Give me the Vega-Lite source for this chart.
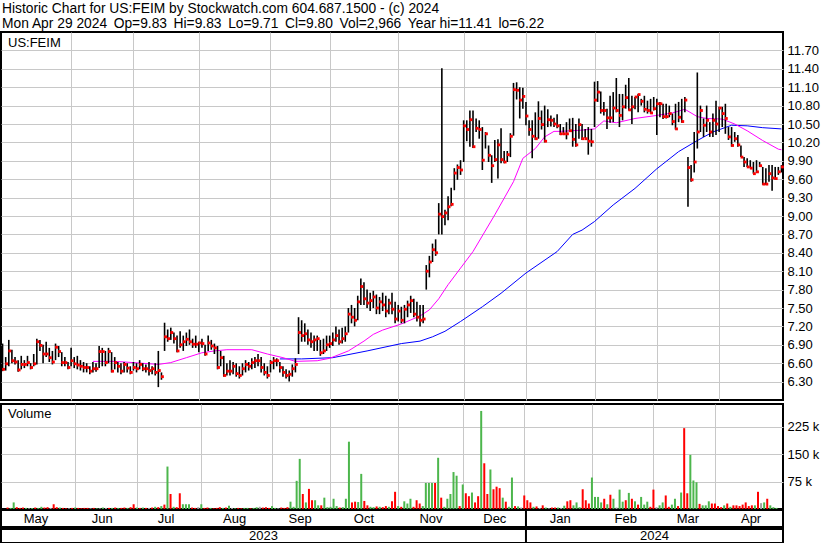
{
"$schema": "https://vega.github.io/schema/vega-lite/v6.json",
"padding": {"top": 2, "left": 0, "right": 0, "bottom": 0},
"background": "white",
"title": {"text": ["Historic Chart for US:FEIM by Stockwatch.com 604.687.1500 - (c) 2024", "Mon Apr 29 2024\u00a0\u2009Op=9.83\u00a0\u2009Hi=9.83\u00a0\u2009Lo=9.71\u00a0\u2009Cl=9.80\u00a0\u2009Vol=2,966\u00a0\u2009Year hi=11.41\u00a0\u2009lo=6.22"], "anchor": "start", "frame": "group", "fontSize": 13.8, "fontWeight": "normal", "font": "Liberation Sans", "color": "black", "lineHeight": 15, "offset": 0, "dx": 1},
"datasets": {
"bars": [
{"i":0,"h":6.92,"l":6.47,"c":6.50,"v":4,"d":"d"},
{"i":1,"h":6.70,"l":6.48,"c":6.59,"v":3,"d":"u"},
{"i":2,"h":6.98,"l":6.55,"c":6.80,"v":18,"d":"u"},
{"i":3,"h":6.82,"l":6.60,"c":6.64,"v":5,"d":"d"},
{"i":4,"h":6.70,"l":6.58,"c":6.62,"v":3,"d":"d"},
{"i":5,"h":6.65,"l":6.46,"c":6.49,"v":4,"d":"d"},
{"i":6,"h":6.72,"l":6.50,"c":6.58,"v":3,"d":"u"},
{"i":7,"h":6.65,"l":6.52,"c":6.58,"v":2,"d":"n"},
{"i":8,"h":6.72,"l":6.55,"c":6.61,"v":3,"d":"u"},
{"i":9,"h":6.60,"l":6.50,"c":6.53,"v":4,"d":"d"},
{"i":10,"h":6.75,"l":6.55,"c":6.59,"v":3,"d":"u"},
{"i":11,"h":7.00,"l":6.58,"c":6.95,"v":6,"d":"u"},
{"i":12,"h":6.98,"l":6.80,"c":6.89,"v":4,"d":"d"},
{"i":13,"h":6.90,"l":6.60,"c":6.75,"v":5,"d":"d"},
{"i":14,"h":6.95,"l":6.70,"c":6.75,"v":3,"d":"n"},
{"i":15,"h":6.85,"l":6.62,"c":6.69,"v":13,"d":"d"},
{"i":16,"h":6.80,"l":6.58,"c":6.62,"v":5,"d":"d"},
{"i":17,"h":6.92,"l":6.65,"c":6.86,"v":4,"d":"u"},
{"i":18,"h":6.88,"l":6.70,"c":6.79,"v":3,"d":"d"},
{"i":19,"h":6.78,"l":6.55,"c":6.61,"v":2,"d":"d"},
{"i":20,"h":6.70,"l":6.55,"c":6.61,"v":2,"d":"n"},
{"i":21,"h":6.62,"l":6.50,"c":6.53,"v":3,"d":"d"},
{"i":22,"h":6.85,"l":6.55,"c":6.64,"v":4,"d":"u"},
{"i":23,"h":6.70,"l":6.52,"c":6.59,"v":3,"d":"d"},
{"i":24,"h":6.72,"l":6.50,"c":6.57,"v":2,"d":"d"},
{"i":25,"h":6.65,"l":6.48,"c":6.55,"v":3,"d":"d"},
{"i":26,"h":6.62,"l":6.45,"c":6.53,"v":3,"d":"d"},
{"i":27,"h":6.60,"l":6.45,"c":6.53,"v":2,"d":"n"},
{"i":28,"h":6.55,"l":6.42,"c":6.47,"v":3,"d":"d"},
{"i":29,"h":6.62,"l":6.45,"c":6.51,"v":2,"d":"u"},
{"i":30,"h":6.60,"l":6.46,"c":6.51,"v":2,"d":"n"},
{"i":31,"h":6.88,"l":6.52,"c":6.79,"v":4,"d":"u"},
{"i":32,"h":6.85,"l":6.55,"c":6.79,"v":3,"d":"n"},
{"i":33,"h":6.80,"l":6.55,"c":6.61,"v":3,"d":"d"},
{"i":34,"h":6.85,"l":6.60,"c":6.79,"v":3,"d":"u"},
{"i":35,"h":6.78,"l":6.45,"c":6.47,"v":4,"d":"d"},
{"i":36,"h":6.70,"l":6.50,"c":6.61,"v":3,"d":"u"},
{"i":37,"h":6.62,"l":6.45,"c":6.55,"v":3,"d":"d"},
{"i":38,"h":6.60,"l":6.42,"c":6.47,"v":4,"d":"d"},
{"i":39,"h":6.62,"l":6.45,"c":6.58,"v":3,"d":"u"},
{"i":40,"h":6.60,"l":6.45,"c":6.52,"v":5,"d":"d"},
{"i":41,"h":6.55,"l":6.42,"c":6.45,"v":13,"d":"d"},
{"i":42,"h":6.62,"l":6.48,"c":6.53,"v":4,"d":"u"},
{"i":43,"h":6.60,"l":6.45,"c":6.51,"v":3,"d":"d"},
{"i":44,"h":6.65,"l":6.50,"c":6.58,"v":4,"d":"u"},
{"i":45,"h":6.60,"l":6.47,"c":6.51,"v":3,"d":"d"},
{"i":46,"h":6.58,"l":6.45,"c":6.51,"v":3,"d":"n"},
{"i":47,"h":6.62,"l":6.40,"c":6.48,"v":4,"d":"d"},
{"i":48,"h":6.55,"l":6.42,"c":6.51,"v":6,"d":"u"},
{"i":49,"h":6.60,"l":6.40,"c":6.45,"v":5,"d":"d"},
{"i":50,"h":6.80,"l":6.21,"c":6.48,"v":8,"d":"u"},
{"i":51,"h":6.45,"l":6.33,"c":6.38,"v":12,"d":"d"},
{"i":52,"h":7.26,"l":6.80,"c":7.03,"v":116,"d":"u"},
{"i":53,"h":7.15,"l":6.95,"c":7.00,"v":41,"d":"d"},
{"i":54,"h":7.18,"l":6.98,"c":7.10,"v":6,"d":"u"},
{"i":55,"h":7.10,"l":6.92,"c":7.00,"v":5,"d":"d"},
{"i":56,"h":7.05,"l":6.78,"c":6.80,"v":43,"d":"d"},
{"i":57,"h":7.12,"l":6.85,"c":6.90,"v":13,"d":"u"},
{"i":58,"h":7.05,"l":6.80,"c":6.95,"v":13,"d":"u"},
{"i":59,"h":7.10,"l":6.88,"c":6.99,"v":13,"d":"u"},
{"i":60,"h":7.15,"l":6.90,"c":6.95,"v":4,"d":"d"},
{"i":61,"h":7.00,"l":6.85,"c":6.91,"v":3,"d":"d"},
{"i":62,"h":7.05,"l":6.85,"c":6.91,"v":5,"d":"n"},
{"i":63,"h":6.95,"l":6.78,"c":6.93,"v":13,"d":"u"},
{"i":64,"h":7.00,"l":6.85,"c":6.92,"v":3,"d":"d"},
{"i":65,"h":6.90,"l":6.72,"c":6.75,"v":4,"d":"d"},
{"i":66,"h":7.05,"l":6.80,"c":6.93,"v":3,"d":"u"},
{"i":67,"h":6.98,"l":6.82,"c":6.88,"v":2,"d":"d"},
{"i":68,"h":6.92,"l":6.75,"c":6.85,"v":3,"d":"d"},
{"i":69,"h":6.88,"l":6.50,"c":6.53,"v":5,"d":"d"},
{"i":70,"h":6.80,"l":6.55,"c":6.69,"v":3,"d":"u"},
{"i":71,"h":6.72,"l":6.38,"c":6.40,"v":4,"d":"d"},
{"i":72,"h":6.60,"l":6.40,"c":6.47,"v":9,"d":"u"},
{"i":73,"h":6.65,"l":6.40,"c":6.47,"v":3,"d":"n"},
{"i":74,"h":6.62,"l":6.42,"c":6.55,"v":2,"d":"u"},
{"i":75,"h":6.60,"l":6.38,"c":6.43,"v":3,"d":"d"},
{"i":76,"h":6.55,"l":6.35,"c":6.40,"v":2,"d":"d"},
{"i":77,"h":6.60,"l":6.40,"c":6.51,"v":3,"d":"u"},
{"i":78,"h":6.65,"l":6.45,"c":6.58,"v":3,"d":"u"},
{"i":79,"h":6.62,"l":6.48,"c":6.55,"v":2,"d":"d"},
{"i":80,"h":6.68,"l":6.50,"c":6.61,"v":3,"d":"u"},
{"i":81,"h":6.70,"l":6.52,"c":6.64,"v":5,"d":"u"},
{"i":82,"h":6.75,"l":6.55,"c":6.64,"v":6,"d":"n"},
{"i":83,"h":6.70,"l":6.45,"c":6.53,"v":4,"d":"d"},
{"i":84,"h":6.60,"l":6.40,"c":6.45,"v":5,"d":"d"},
{"i":85,"h":6.55,"l":6.35,"c":6.40,"v":3,"d":"d"},
{"i":86,"h":6.65,"l":6.45,"c":6.61,"v":8,"d":"u"},
{"i":87,"h":6.70,"l":6.50,"c":6.64,"v":3,"d":"u"},
{"i":88,"h":6.68,"l":6.55,"c":6.64,"v":2,"d":"n"},
{"i":89,"h":6.62,"l":6.45,"c":6.53,"v":4,"d":"d"},
{"i":90,"h":6.55,"l":6.38,"c":6.45,"v":3,"d":"d"},
{"i":91,"h":6.50,"l":6.35,"c":6.40,"v":5,"d":"d"},
{"i":92,"h":6.48,"l":6.30,"c":6.42,"v":20,"d":"u"},
{"i":93,"h":6.58,"l":6.38,"c":6.51,"v":6,"d":"u"},
{"i":94,"h":6.68,"l":6.45,"c":6.58,"v":77,"d":"u"},
{"i":95,"h":7.35,"l":6.75,"c":7.10,"v":137,"d":"u"},
{"i":96,"h":7.30,"l":6.95,"c":7.05,"v":41,"d":"d"},
{"i":97,"h":7.25,"l":6.95,"c":7.08,"v":18,"d":"u"},
{"i":98,"h":7.15,"l":6.90,"c":6.98,"v":55,"d":"d"},
{"i":99,"h":7.10,"l":6.85,"c":6.95,"v":24,"d":"d"},
{"i":100,"h":7.05,"l":6.80,"c":6.98,"v":24,"d":"u"},
{"i":101,"h":7.05,"l":6.80,"c":7.00,"v":10,"d":"u"},
{"i":102,"h":6.98,"l":6.72,"c":6.77,"v":10,"d":"d"},
{"i":103,"h":7.00,"l":6.75,"c":6.80,"v":31,"d":"u"},
{"i":104,"h":7.05,"l":6.80,"c":6.90,"v":5,"d":"u"},
{"i":105,"h":7.05,"l":6.85,"c":6.92,"v":6,"d":"u"},
{"i":106,"h":7.10,"l":6.88,"c":6.98,"v":28,"d":"u"},
{"i":107,"h":7.20,"l":6.95,"c":7.05,"v":8,"d":"u"},
{"i":108,"h":7.15,"l":6.90,"c":6.95,"v":4,"d":"d"},
{"i":109,"h":7.18,"l":6.92,"c":7.00,"v":5,"d":"u"},
{"i":110,"h":7.20,"l":6.95,"c":7.08,"v":28,"d":"u"},
{"i":111,"h":7.50,"l":7.10,"c":7.40,"v":184,"d":"u"},
{"i":112,"h":7.55,"l":7.25,"c":7.35,"v":18,"d":"d"},
{"i":113,"h":7.50,"l":7.20,"c":7.30,"v":20,"d":"d"},
{"i":114,"h":7.70,"l":7.30,"c":7.60,"v":19,"d":"u"},
{"i":115,"h":7.98,"l":7.55,"c":7.85,"v":96,"d":"u"},
{"i":116,"h":7.92,"l":7.55,"c":7.65,"v":22,"d":"d"},
{"i":117,"h":7.80,"l":7.50,"c":7.58,"v":10,"d":"d"},
{"i":118,"h":7.75,"l":7.45,"c":7.62,"v":6,"d":"u"},
{"i":119,"h":7.78,"l":7.50,"c":7.68,"v":5,"d":"u"},
{"i":120,"h":7.72,"l":7.40,"c":7.50,"v":7,"d":"d"},
{"i":121,"h":7.68,"l":7.40,"c":7.60,"v":6,"d":"u"},
{"i":122,"h":7.75,"l":7.45,"c":7.55,"v":5,"d":"d"},
{"i":123,"h":7.70,"l":7.35,"c":7.45,"v":8,"d":"d"},
{"i":124,"h":7.65,"l":7.40,"c":7.58,"v":6,"d":"u"},
{"i":125,"h":7.75,"l":7.40,"c":7.48,"v":21,"d":"d"},
{"i":126,"h":7.60,"l":7.25,"c":7.32,"v":47,"d":"d"},
{"i":127,"h":7.55,"l":7.28,"c":7.45,"v":8,"d":"u"},
{"i":128,"h":7.52,"l":7.25,"c":7.30,"v":6,"d":"d"},
{"i":129,"h":7.55,"l":7.25,"c":7.48,"v":21,"d":"u"},
{"i":130,"h":7.62,"l":7.35,"c":7.55,"v":15,"d":"u"},
{"i":131,"h":7.70,"l":7.42,"c":7.62,"v":28,"d":"u"},
{"i":132,"h":7.65,"l":7.35,"c":7.40,"v":6,"d":"d"},
{"i":133,"h":7.60,"l":7.28,"c":7.35,"v":24,"d":"d"},
{"i":134,"h":7.55,"l":7.20,"c":7.30,"v":15,"d":"d"},
{"i":135,"h":7.55,"l":7.25,"c":7.32,"v":8,"d":"u"},
{"i":136,"h":8.20,"l":7.80,"c":8.10,"v":71,"d":"u"},
{"i":137,"h":8.35,"l":8.00,"c":8.25,"v":71,"d":"u"},
{"i":138,"h":8.55,"l":8.25,"c":8.45,"v":71,"d":"u"},
{"i":139,"h":8.62,"l":8.35,"c":8.40,"v":71,"d":"d"},
{"i":140,"h":9.21,"l":8.70,"c":9.03,"v":140,"d":"u"},
{"i":141,"h":11.41,"l":8.70,"c":8.99,"v":31,"d":"d"},
{"i":142,"h":9.10,"l":8.85,"c":9.05,"v":6,"d":"u"},
{"i":143,"h":9.32,"l":8.93,"c":9.15,"v":28,"d":"u"},
{"i":144,"h":9.46,"l":9.16,"c":9.19,"v":41,"d":"u"},
{"i":145,"h":9.78,"l":9.42,"c":9.70,"v":101,"d":"u"},
{"i":146,"h":9.84,"l":9.59,"c":9.79,"v":91,"d":"u"},
{"i":147,"h":9.91,"l":9.67,"c":9.75,"v":8,"d":"d"},
{"i":148,"h":10.56,"l":9.88,"c":10.47,"v":67,"d":"u"},
{"i":149,"h":10.56,"l":10.22,"c":10.41,"v":43,"d":"d"},
{"i":150,"h":10.72,"l":10.13,"c":10.57,"v":35,"d":"d"},
{"i":151,"h":10.72,"l":10.11,"c":10.13,"v":45,"d":"u"},
{"i":152,"h":10.59,"l":10.37,"c":10.43,"v":18,"d":"d"},
{"i":153,"h":10.56,"l":10.26,"c":10.41,"v":35,"d":"d"},
{"i":154,"h":10.45,"l":9.75,"c":9.91,"v":268,"d":"u"},
{"i":155,"h":10.37,"l":10.10,"c":10.34,"v":125,"d":"d"},
{"i":156,"h":10.15,"l":9.88,"c":9.99,"v":41,"d":"d"},
{"i":157,"h":9.99,"l":9.54,"c":9.82,"v":108,"d":"u"},
{"i":158,"h":10.24,"l":9.88,"c":9.92,"v":54,"d":"d"},
{"i":159,"h":10.25,"l":9.61,"c":10.16,"v":61,"d":"d"},
{"i":160,"h":10.43,"l":9.86,"c":9.92,"v":57,"d":"d"},
{"i":161,"h":10.06,"l":9.86,"c":9.88,"v":31,"d":"u"},
{"i":162,"h":10.06,"l":9.88,"c":10.00,"v":20,"d":"d"},
{"i":163,"h":10.35,"l":9.96,"c":10.30,"v":6,"d":"u"},
{"i":164,"h":11.17,"l":10.31,"c":11.06,"v":86,"d":"u"},
{"i":165,"h":11.18,"l":10.90,"c":11.05,"v":8,"d":"d"},
{"i":166,"h":11.10,"l":10.59,"c":10.89,"v":7,"d":"u"},
{"i":167,"h":11.09,"l":10.75,"c":10.95,"v":4,"d":"n"},
{"i":168,"h":10.86,"l":10.48,"c":10.63,"v":37,"d":"d"},
{"i":169,"h":10.56,"l":10.31,"c":10.41,"v":24,"d":"d"},
{"i":170,"h":10.56,"l":9.94,"c":10.30,"v":18,"d":"d"},
{"i":171,"h":10.69,"l":10.24,"c":10.26,"v":6,"d":"u"},
{"i":172,"h":10.87,"l":10.26,"c":10.59,"v":7,"d":"d"},
{"i":173,"h":10.72,"l":10.41,"c":10.49,"v":3,"d":"n"},
{"i":174,"h":10.80,"l":10.20,"c":10.22,"v":10,"d":"d"},
{"i":175,"h":10.74,"l":10.45,"c":10.57,"v":4,"d":"u"},
{"i":176,"h":10.64,"l":10.46,"c":10.56,"v":2,"d":"n"},
{"i":177,"h":10.60,"l":10.45,"c":10.50,"v":4,"d":"d"},
{"i":178,"h":10.66,"l":10.43,"c":10.47,"v":4,"d":"d"},
{"i":179,"h":10.50,"l":10.32,"c":10.34,"v":4,"d":"u"},
{"i":180,"h":10.45,"l":10.32,"c":10.34,"v":3,"d":"n"},
{"i":181,"h":10.53,"l":10.25,"c":10.34,"v":9,"d":"u"},
{"i":182,"h":10.59,"l":10.37,"c":10.39,"v":21,"d":"d"},
{"i":183,"h":10.60,"l":10.13,"c":10.25,"v":24,"d":"d"},
{"i":184,"h":10.50,"l":10.13,"c":10.16,"v":10,"d":"u"},
{"i":185,"h":10.59,"l":10.26,"c":10.49,"v":18,"d":"u"},
{"i":186,"h":10.50,"l":10.24,"c":10.26,"v":5,"d":"u"},
{"i":187,"h":10.42,"l":10.27,"c":10.26,"v":54,"d":"d"},
{"i":188,"h":10.45,"l":10.00,"c":10.22,"v":24,"d":"d"},
{"i":189,"h":10.42,"l":10.13,"c":10.21,"v":15,"d":"d"},
{"i":190,"h":11.19,"l":10.45,"c":10.89,"v":86,"d":"u"},
{"i":191,"h":11.20,"l":10.86,"c":11.02,"v":33,"d":"u"},
{"i":192,"h":11.03,"l":10.67,"c":10.72,"v":33,"d":"u"},
{"i":193,"h":10.86,"l":10.64,"c":10.72,"v":18,"d":"u"},
{"i":194,"h":10.75,"l":10.42,"c":10.60,"v":28,"d":"d"},
{"i":195,"h":10.96,"l":10.52,"c":10.60,"v":13,"d":"u"},
{"i":196,"h":11.02,"l":10.53,"c":10.76,"v":39,"d":"d"},
{"i":197,"h":11.25,"l":10.69,"c":10.72,"v":28,"d":"u"},
{"i":198,"h":10.99,"l":10.45,"c":10.64,"v":4,"d":"n"},
{"i":199,"h":10.99,"l":10.56,"c":10.78,"v":53,"d":"u"},
{"i":200,"h":11.14,"l":10.75,"c":10.93,"v":20,"d":"u"},
{"i":201,"h":11.25,"l":10.72,"c":10.73,"v":24,"d":"d"},
{"i":202,"h":10.96,"l":10.50,"c":10.78,"v":44,"d":"u"},
{"i":203,"h":10.94,"l":10.74,"c":10.94,"v":28,"d":"d"},
{"i":204,"h":10.99,"l":10.69,"c":10.98,"v":21,"d":"u"},
{"i":205,"h":10.91,"l":10.80,"c":10.87,"v":12,"d":"d"},
{"i":206,"h":10.96,"l":10.69,"c":10.74,"v":33,"d":"u"},
{"i":207,"h":10.88,"l":10.67,"c":10.72,"v":12,"d":"u"},
{"i":208,"h":10.91,"l":10.67,"c":10.68,"v":20,"d":"u"},
{"i":209,"h":10.94,"l":10.72,"c":10.75,"v":6,"d":"d"},
{"i":210,"h":10.91,"l":10.32,"c":10.83,"v":53,"d":"d"},
{"i":211,"h":10.86,"l":10.61,"c":10.83,"v":5,"d":"n"},
{"i":212,"h":10.83,"l":10.58,"c":10.62,"v":10,"d":"u"},
{"i":213,"h":10.83,"l":10.59,"c":10.62,"v":18,"d":"u"},
{"i":214,"h":10.80,"l":10.61,"c":10.67,"v":37,"d":"d"},
{"i":215,"h":10.67,"l":10.48,"c":10.54,"v":6,"d":"d"},
{"i":216,"h":10.83,"l":10.41,"c":10.42,"v":12,"d":"u"},
{"i":217,"h":10.86,"l":10.53,"c":10.61,"v":28,"d":"u"},
{"i":218,"h":10.91,"l":10.52,"c":10.54,"v":8,"d":"d"},
{"i":219,"h":10.94,"l":10.69,"c":10.89,"v":45,"d":"u"},
{"i":220,"h":9.96,"l":9.15,"c":9.79,"v":221,"d":"d"},
{"i":221,"h":9.83,"l":9.56,"c":9.59,"v":43,"d":"d"},
{"i":222,"h":10.37,"l":9.71,"c":9.88,"v":148,"d":"u"},
{"i":223,"h":11.34,"l":10.10,"c":10.37,"v":78,"d":"u"},
{"i":224,"h":10.80,"l":10.37,"c":10.72,"v":73,"d":"u"},
{"i":225,"h":10.59,"l":10.29,"c":10.48,"v":14,"d":"d"},
{"i":226,"h":10.80,"l":10.37,"c":10.56,"v":10,"d":"u"},
{"i":227,"h":10.53,"l":10.29,"c":10.37,"v":10,"d":"u"},
{"i":228,"h":10.67,"l":10.29,"c":10.56,"v":21,"d":"u"},
{"i":229,"h":10.88,"l":10.32,"c":10.50,"v":15,"d":"d"},
{"i":230,"h":10.78,"l":10.37,"c":10.76,"v":15,"d":"d"},
{"i":231,"h":10.78,"l":10.45,"c":10.67,"v":8,"d":"d"},
{"i":232,"h":10.83,"l":10.34,"c":10.59,"v":5,"d":"d"},
{"i":233,"h":10.45,"l":10.24,"c":10.29,"v":10,"d":"u"},
{"i":234,"h":10.45,"l":10.13,"c":10.15,"v":15,"d":"d"},
{"i":235,"h":10.37,"l":10.21,"c":10.26,"v":6,"d":"u"},
{"i":236,"h":10.32,"l":10.13,"c":10.16,"v":10,"d":"d"},
{"i":237,"h":10.15,"l":9.96,"c":9.96,"v":10,"d":"d"},
{"i":238,"h":9.96,"l":9.80,"c":9.88,"v":8,"d":"d"},
{"i":239,"h":9.94,"l":9.80,"c":9.80,"v":12,"d":"d"},
{"i":240,"h":9.91,"l":9.78,"c":9.78,"v":18,"d":"d"},
{"i":241,"h":9.88,"l":9.69,"c":9.69,"v":8,"d":"d"},
{"i":242,"h":9.91,"l":9.70,"c":9.72,"v":10,"d":"d"},
{"i":243,"h":9.88,"l":9.80,"c":9.82,"v":10,"d":"u"},
{"i":244,"h":9.80,"l":9.51,"c":9.52,"v":47,"d":"d"},
{"i":245,"h":9.78,"l":9.51,"c":9.52,"v":16,"d":"n"},
{"i":246,"h":9.83,"l":9.56,"c":9.69,"v":18,"d":"u"},
{"i":247,"h":9.83,"l":9.41,"c":9.62,"v":28,"d":"d"},
{"i":248,"h":9.80,"l":9.59,"c":9.61,"v":10,"d":"u"},
{"i":249,"h":9.80,"l":9.67,"c":9.72,"v":5,"d":"u"},
{"i":250,"h":9.83,"l":9.71,"c":9.80,"v":3,"d":"u"}
],
"ma1": [
{"i":29,"v":6.63},{"i":36,"v":6.63},{"i":42,"v":6.61},{"i":50,"v":6.58},{"i":54,"v":6.61},{"i":59,"v":6.69},{"i":64,"v":6.77},{"i":68,"v":6.80},{"i":72,"v":6.82},{"i":80,"v":6.82},{"i":85,"v":6.75},{"i":90,"v":6.69},{"i":94,"v":6.63},{"i":101,"v":6.64},{"i":105,"v":6.68},{"i":111,"v":6.80},{"i":116,"v":6.96},{"i":119,"v":7.07},{"i":122,"v":7.14},{"i":128,"v":7.24},{"i":134,"v":7.37},{"i":137,"v":7.47},{"i":140,"v":7.65},{"i":143,"v":7.88},{"i":147,"v":8.15},{"i":151,"v":8.42},{"i":158,"v":9.02},{"i":164,"v":9.56},{"i":167,"v":9.94},{"i":171,"v":10.10},{"i":174,"v":10.29},{"i":177,"v":10.38},{"i":179,"v":10.38},{"i":186,"v":10.40},{"i":190,"v":10.42},{"i":193,"v":10.55},{"i":197,"v":10.52},{"i":203,"v":10.59},{"i":210,"v":10.64},{"i":215,"v":10.68},{"i":219,"v":10.74},{"i":223,"v":10.62},{"i":226,"v":10.59},{"i":231,"v":10.58},{"i":235,"v":10.50},{"i":239,"v":10.39},{"i":244,"v":10.23},{"i":249,"v":10.09},{"i":250,"v":10.08}
],
"ma2": [
{"i":89,"v":6.67},{"i":96,"v":6.67},{"i":106,"v":6.69},{"i":117,"v":6.80},{"i":128,"v":6.92},{"i":134,"v":6.96},{"i":138,"v":7.03},{"i":142,"v":7.12},{"i":147,"v":7.28},{"i":154,"v":7.52},{"i":160,"v":7.74},{"i":168,"v":8.07},{"i":178,"v":8.42},{"i":183,"v":8.70},{"i":186,"v":8.77},{"i":190,"v":8.91},{"i":196,"v":9.18},{"i":203,"v":9.45},{"i":210,"v":9.77},{"i":217,"v":10.05},{"i":223,"v":10.23},{"i":228,"v":10.37},{"i":234,"v":10.48},{"i":239,"v":10.47},{"i":244,"v":10.44},{"i":250,"v":10.42}
],
"months": [
{"m":10.75,"t":"May"},{"m":32,"t":"Jun"},{"m":52.5,"t":"Jul"},{"m":74.5,"t":"Aug"},{"m":95.5,"t":"Sep"},{"m":116,"t":"Oct"},{"m":137.5,"t":"Nov"},{"m":158,"t":"Dec"},{"m":179,"t":"Jan"},{"m":200,"t":"Feb"},{"m":220,"t":"Mar"},{"m":240.25,"t":"Apr"}
],
"years": [{"m":83.75,"t":"2023"},{"m":209.25,"t":"2024"}],
"sep": [{"i":168}]
},
"vconcat": [
{
"width": 782, "height": 368,
"title": {"text": "US:FEIM", "anchor": "start", "frame": "group", "offset": -18, "dx": 7},
"encoding": {"x": {"field": "i", "type": "quantitative", "scale": {"domain": [-0.5, 250.5], "nice": false, "zero": false}, "axis": {"values": [22,42,63,86,105,127,148,168,190,210,230], "tickCount": 40, "grid": true, "labels": false}}},
"layer": [
{"data": {"name": "ma2"}, "mark": {"type": "line", "color": "#0000ff", "strokeWidth": 1}, "encoding": {"y": {"field": "v", "type": "quantitative", "scale": {"domain": [6, 12], "nice": false, "zero": false}, "axis": {"orient": "right", "values": [6.3,6.6,6.9,7.2,7.5,7.8,8.1,8.4,8.7,9.0,9.3,9.6,9.9,10.2,10.5,10.8,11.1,11.4,11.7], "tickCount": 40, "format": ".2f", "grid": true, "labelPadding": 4, "labelOverlap": false}}}},
{"data": {"name": "ma1"}, "mark": {"type": "line", "color": "#ff00ff", "strokeWidth": 1}, "encoding": {"y": {"field": "v", "type": "quantitative", "scale": {"domain": [6, 12], "nice": false, "zero": false}}}},
{"data": {"name": "bars"}, "mark": {"type": "rule", "color": "black", "strokeWidth": 1.6}, "encoding": {"y": {"field": "l", "type": "quantitative", "scale": {"domain": [6, 12], "nice": false, "zero": false}}, "y2": {"field": "h"}}},
{"data": {"name": "bars"}, "mark": {"type": "square", "color": "#ff0000", "size": 8, "opacity": 1, "xOffset": 1}, "encoding": {"y": {"field": "c", "type": "quantitative", "scale": {"domain": [6, 12], "nice": false, "zero": false}}}}
]
},
{
"spacing": -2,
"vconcat": [
{
"width": 782, "height": 105,
"title": {"text": "Volume", "anchor": "start", "frame": "group", "offset": -17, "dx": 7},
"data": {"name": "bars"},
"mark": {"type": "bar", "size": 2},
"encoding": {
"x": {"field": "i", "type": "quantitative", "scale": {"domain": [-0.5, 250.5], "nice": false, "zero": false}, "axis": {"values": [22,42,63,86,105,127,148,168,190,210,230], "tickCount": 40, "grid": true, "labels": false}},
"y": {"field": "v", "type": "quantitative", "scale": {"domain": [0, 287], "nice": false}, "axis": {"orient": "right", "values": [75, 150, 225], "tickCount": 10, "labelExpr": "datum.value + ' k'", "grid": true, "labelPadding": 4, "labelOverlap": false}},
"color": {"field": "d", "type": "nominal", "scale": {"domain": ["u", "d", "n"], "range": ["#4cb64c", "#ff0000", "#a0a0a0"]}, "legend": null}
}
},
{
"width": 782, "height": 17,
"layer": [
{"data": {"name": "sep"}, "mark": {"type": "rule", "color": "black", "strokeWidth": 2}, "encoding": {"x": {"field": "i", "type": "quantitative", "scale": {"domain": [-0.5, 250.5], "nice": false, "zero": false}, "axis": null}}},
{"data": {"name": "months"}, "mark": {"type": "text", "font": "Liberation Sans", "fontSize": 13, "color": "black"}, "encoding": {"x": {"field": "m", "type": "quantitative", "scale": {"domain": [-0.5, 250.5], "nice": false, "zero": false}, "axis": null}, "text": {"field": "t"}}}
]
},
{
"width": 782, "height": 14,
"layer": [
{"data": {"name": "sep"}, "mark": {"type": "rule", "color": "black", "strokeWidth": 2}, "encoding": {"x": {"field": "i", "type": "quantitative", "scale": {"domain": [-0.5, 250.5], "nice": false, "zero": false}, "axis": null}}},
{"data": {"name": "years"}, "mark": {"type": "text", "font": "Liberation Sans", "fontSize": 13, "color": "black"}, "encoding": {"x": {"field": "m", "type": "quantitative", "scale": {"domain": [-0.5, 250.5], "nice": false, "zero": false}, "axis": null}, "text": {"field": "t"}}}
]
}
]
}
],
"spacing": 2,
"config": {
"view": {"stroke": "black", "strokeWidth": 2},
"axis": {"labelFont": "Liberation Sans", "labelFontSize": 13, "labelColor": "black", "gridColor": "#c8c8c8", "gridWidth": 1, "gridOpacity": 1, "domain": false, "ticks": false, "title": null},
"title": {"font": "Liberation Sans", "fontWeight": "normal", "fontSize": 13, "color": "black"}
}
}
